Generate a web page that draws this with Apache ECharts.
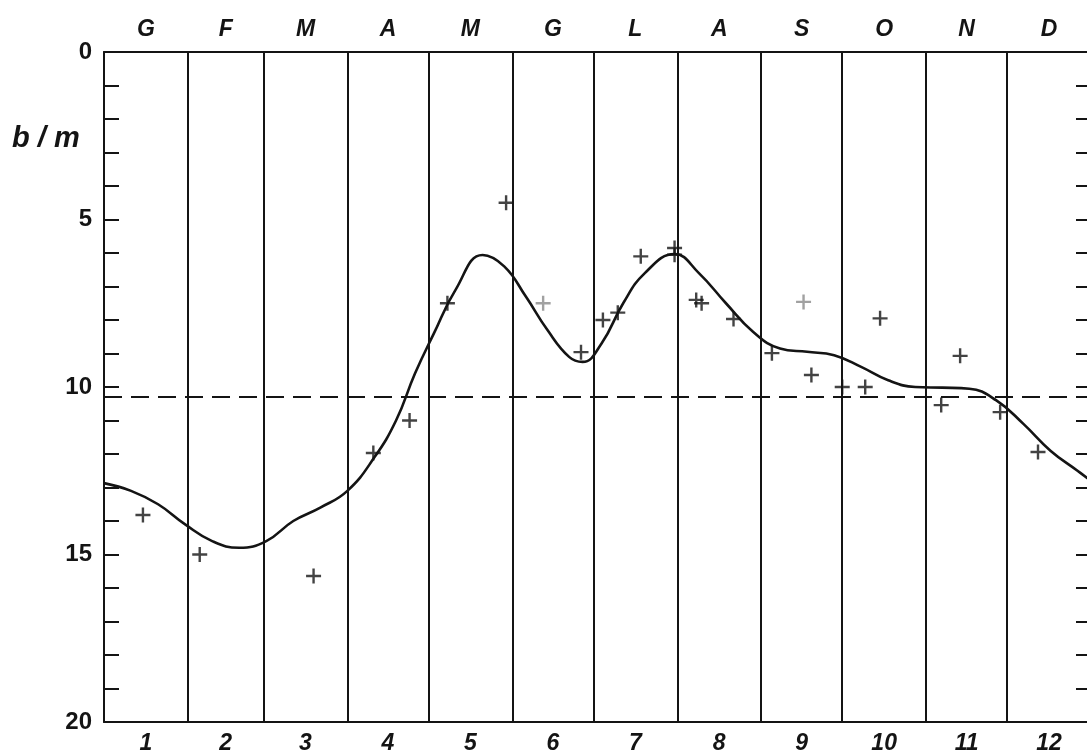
<!DOCTYPE html>
<html>
<head>
<meta charset="utf-8">
<script src="https://cdn.jsdelivr.net/npm/echarts@6/dist/echarts.min.js"></script>
<style>
  html, body { margin: 0; padding: 0; background: #ffffff; }
  #chart { width: 1087px; height: 754px; }
</style>
</head>
<body>
<div id="chart"></div>
<script>
// Months of the year (Italian initials on top, numbers below), lengths in days
const monthLetters = ['G', 'F', 'M', 'A', 'M', 'G', 'L', 'A', 'S', 'O', 'N', 'D'];
const monthNumbers = ['1', '2', '3', '4', '5', '6', '7', '8', '9', '10', '11', '12'];
const monthDays = [31, 28, 31, 30, 31, 30, 31, 31, 30, 31, 30, 31];

// Depth axis (metres, increasing downward)
const depthTicks = [0, 5, 10, 15, 20];
const meanDepth = 10.3;

// Smoothed seasonal curve: [day of year, depth in m]
const curvePoints = [
  [0, 12.87], [10, 13.1], [20, 13.5], [30, 14.1], [40, 14.6], [50, 14.8],
  [60, 14.6], [70, 14.0], [80, 13.6], [90, 13.1], [100, 12.1], [108, 11.0],
  [115, 9.6], [122, 8.4], [130, 7.1], [140, 6.06], [148, 6.4], [156, 7.3],
  [164, 8.3], [172, 9.1], [177, 9.25], [184, 8.7], [192, 7.5], [200, 6.6],
  [211, 6.03], [220, 6.6], [230, 7.5], [240, 8.35], [250, 8.85], [260, 8.95],
  [270, 9.05], [280, 9.4], [290, 9.8], [300, 10.0], [310, 10.02], [320, 10.05],
  [330, 10.4], [340, 11.1], [350, 11.9], [360, 12.5], [365, 12.8]
];

// Individual measurements: [day of year, depth in m]
const observations = [
  [14.4, 13.82], [35.4, 15.0], [77.5, 15.64], [99.6, 11.97], [113, 11.0],
  [127, 7.5], [148.7, 4.5], [176.4, 8.96], [184.5, 8.0], [190, 7.78],
  [198.5, 6.1], [211, 5.85], [211, 6.05], [219, 7.4], [221, 7.5],
  [232.8, 7.97], [247, 8.99], [261.6, 9.64], [273, 10.0], [281.5, 10.0],
  [287, 7.95], [309.6, 10.54], [316.6, 9.07], [331.4, 10.75], [345.4, 11.94]
];
const faintObservations = [[162.4, 7.5], [258.7, 7.46]];

// Month boundaries and mid-month positions, in days
const monthStarts = [];
const monthMids = [];
let acc = 0;
monthDays.forEach(d => { monthStarts.push(acc); monthMids.push(acc + d / 2); acc += d; });
const yearLength = acc;

const ink = '#141414';
const plusSymbol = 'path://M6.3,0H8.7V15H6.3ZM0,6.3H15V8.7H0Z';

const chart = echarts.init(document.getElementById('chart'), null, { renderer: 'canvas' });

function monthAxis(position, names, margin) {
  return {
    type: 'value',
    position: position,
    min: 0,
    max: yearLength,
    axisLine: { show: true, onZero: false, lineStyle: { color: ink, width: 2 } },
    axisTick: { show: false },
    splitLine: { show: false },
    axisLabel: {
      customValues: monthMids,
      margin: margin,
      color: ink,
      fontFamily: 'Liberation Sans, Arial, sans-serif',
      fontStyle: 'italic',
      fontWeight: 'bold',
      fontSize: 23,
      formatter: v => {
        const i = monthMids.indexOf(v);
        return i >= 0 ? names[i] : '';
      }
    }
  };
}

function depthAxis(position, showLabels) {
  return {
    type: 'value',
    position: position,
    inverse: true,
    min: 0,
    max: 20,
    interval: 1,
    axisLine: { show: true, onZero: false, lineStyle: { color: ink, width: 2 } },
    axisTick: { show: true, inside: true, length: 15, lineStyle: { color: ink, width: 2 } },
    splitLine: { show: false },
    axisLabel: {
      show: showLabels,
      margin: 12,
      color: ink,
      fontFamily: 'Liberation Sans, Arial, sans-serif',
      fontWeight: 'bold',
      fontSize: 24,
      formatter: v => (depthTicks.indexOf(v) >= 0 ? String(v) : '')
    }
  };
}

const option = {
  backgroundColor: '#ffffff',
  animation: false,
  grid: { left: 104, top: 52, width: 987, height: 670, outerBoundsMode: 'none', containLabel: false },
  xAxis: [
    monthAxis('bottom', monthNumbers, 10),
    monthAxis('top', monthLetters, 11)
  ],
  yAxis: [
    depthAxis('left', true),
    depthAxis('right', false)
  ],
  graphic: [{
    type: 'text',
    left: 12,
    top: 124,
    style: {
      text: 'b / m',
      fill: ink,
      font: 'italic bold 29px "Liberation Sans", Arial, sans-serif'
    }
  }],
  series: [
    {
      type: 'line',
      data: curvePoints,
      smooth: 0.45,
      showSymbol: false,
      silent: true,
      lineStyle: { color: ink, width: 2.6 },
      markLine: {
        silent: true,
        symbol: ['none', 'none'],
        label: { show: false },
        lineStyle: { color: ink, width: 2, type: 'solid' },
        data: monthStarts.slice(1).map(d => ({ xAxis: d })).concat([
          { yAxis: meanDepth, lineStyle: { color: ink, width: 2, type: [18, 9] } }
        ])
      }
    },
    {
      type: 'scatter',
      data: observations,
      symbol: plusSymbol,
      symbolSize: 15,
      silent: true,
      itemStyle: { color: ink }
    },
    {
      type: 'scatter',
      data: faintObservations,
      symbol: plusSymbol,
      symbolSize: 15,
      silent: true,
      itemStyle: { color: '#8a8a8a' }
    }
  ]
};

chart.setOption(option);
</script>
</body>
</html>
